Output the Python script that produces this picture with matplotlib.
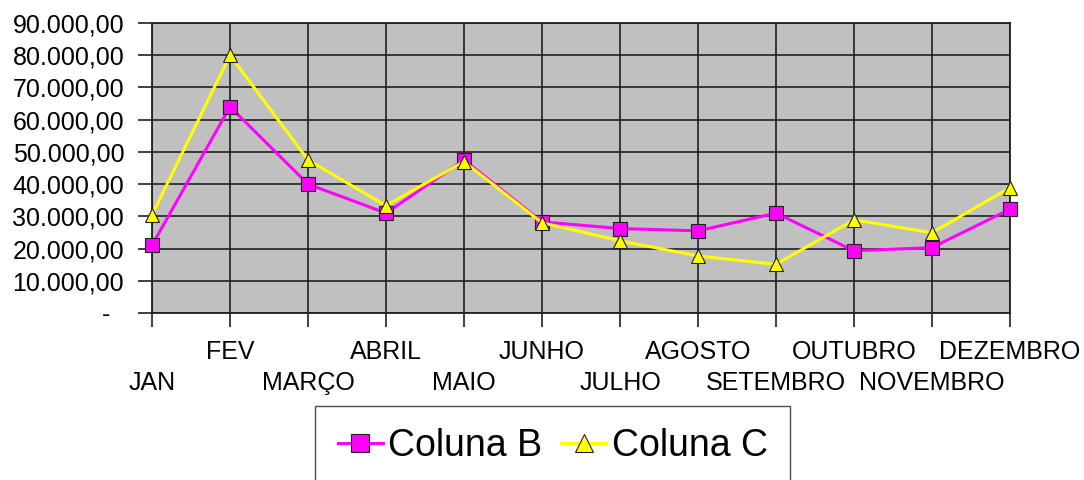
import matplotlib.pyplot as plt

plt.rcParams['font.family'] = ['Liberation Sans', 'DejaVu Sans']

meses = ['JAN', 'FEV', 'MARÇO', 'ABRIL', 'MAIO', 'JUNHO', 'JULHO',
         'AGOSTO', 'SETEMBRO', 'OUTUBRO', 'NOVEMBRO', 'DEZEMBRO']
coluna_b = [21000, 64000, 40000, 31000, 47500, 28300, 26200,
            25500, 31000, 19300, 20300, 32200]
coluna_c = [30400, 80000, 47500, 33300, 47000, 28000, 22400,
            17700, 15100, 28900, 24900, 38900]
y_ticks = [0, 10000, 20000, 30000, 40000, 50000, 60000, 70000, 80000, 90000]


def fmt_br(v):
    if v == 0:
        return '-\u2007'
    s = f"{v:,.2f}"
    return s.replace(',', 'X').replace('.', ',').replace('X', '.')


fig = plt.figure(figsize=(10.84, 4.8), dpi=100)
ax = fig.add_axes([152/1084, 1 - 313/480, 858/1084, 290/480])
ax.set_facecolor('#c0c0c0')

x = list(range(len(meses)))
ax.plot(x, coluna_b, color='#ff00ff', lw=2.2, marker='s', markersize=9.4,
        markerfacecolor='#ff00ff', markeredgecolor='#202020', markeredgewidth=0.8,
        label='Coluna B', clip_on=False, zorder=3)
ax.plot(x, coluna_c, color='#ffff00', lw=2.2, marker='^', markersize=9.5,
        markerfacecolor='#ffff00', markeredgecolor='#202020', markeredgewidth=0.8,
        label='Coluna C', clip_on=False, zorder=4)

ax.set_xlim(0, len(meses) - 1)
ax.set_ylim(0, 90000)

ax.set_yticks(y_ticks)
ax.set_yticklabels([fmt_br(v) for v in y_ticks], fontsize=18)
ax.set_xticks(x)
ax.set_xticklabels([m if i % 2 else '\n' + m for i, m in enumerate(meses)],
                   fontsize=18, linespacing=1.35)

ax.tick_params(axis='y', length=10, width=1.2, pad=10, color='#202020')
ax.tick_params(axis='x', length=10, width=1.2, pad=9.5, color='#202020')

ax.grid(True, color='#202020', lw=1.2)
ax.set_axisbelow(True)
for sp in ax.spines.values():
    sp.set_color('#202020')
    sp.set_linewidth(1.3)

leg = fig.legend(loc='upper left', bbox_to_anchor=(315/1084, 1 - 406/480),
                 ncol=2, fontsize=27, frameon=True, fancybox=False,
                 edgecolor='#202020', borderpad=0.6, handlelength=1.2,
                 handletextpad=0.15, columnspacing=0.5, borderaxespad=0,
                 markerscale=1.35)
leg.get_frame().set_linewidth(1.0)

plt.savefig('out.png', dpi=100)
